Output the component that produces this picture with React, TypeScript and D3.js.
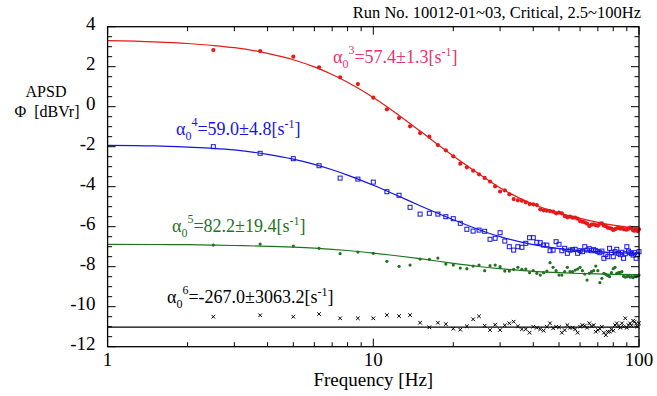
import React, { useRef, useEffect } from 'react';
import * as d3 from 'd3';

// measured frequencies: 2.5 Hz to 100 Hz in 1.25 Hz steps
const freqs = d3.range(79).map(i => 2.5 + 1.25 * i);

const redPts = [
  2.83, 2.78, 2.50, 1.97, 1.47, 1.13, 0.45, -0.13, -0.57, -0.98,
  -1.32, -1.50, -1.92, -2.18, -2.48, -2.85, -3.03, -3.20, -3.38, -3.56,
  -3.74, -3.98, -4.24, -4.18, -4.38, -4.62, -4.68, -4.70, -4.78, -4.87,
  -4.88, -4.92, -5.13, -5.18, -5.20, -5.22, -5.25, -5.33, -5.30, -5.33,
  -5.47, -5.53, -5.50, -5.55, -5.55, -5.60, -5.72, -5.75, -5.78, -5.85,
  -5.97, -5.90, -5.88, -5.92, -5.95, -5.85, -5.83, -5.95, -5.97, -6.05,
  -6.07, -6.10, -6.17, -6.12, -6.08, -6.05, -6.10, -6.08, -6.12, -6.13,
  -6.15, -6.10, -6.05, -6.07, -6.18, -6.20, -6.12, -6.22, -6.13
];

const bluePts = [
  -2.00, -2.33, -2.60, -2.95, -3.57, -3.62, -3.77, -4.25, -4.43, -5.03,
  -5.37, -5.33, -5.37, -5.50, -5.60, -5.83, -6.13, -6.22, -6.17, -6.23,
  -6.63, -6.58, -6.30, -6.72, -7.00, -7.17, -7.00, -7.03, -6.83, -6.55,
  -6.55, -6.78, -6.80, -6.92, -6.92, -7.20, -7.17, -6.75, -6.88, -7.20,
  -7.08, -7.33, -7.17, -7.15, -7.13, -7.33, -7.20, -7.25, -7.00, -7.17,
  -7.10, -7.20, -7.15, -7.20, -7.25, -7.30, -7.22, -7.58, -7.40, -7.50,
  -7.08, -7.30, -7.50, -7.25, -7.13, -7.33, -7.40, -7.28, -7.58, -7.35,
  -7.00, -7.22, -7.30, -7.35, -7.42, -7.30, -7.58, -7.40, -7.25
];

const greenPts = [
  -6.92, -6.87, -6.97, -7.08, -7.35, -7.27, -7.33, -7.73, -7.98, -7.92,
  -7.62, -7.63, -7.57, -7.87, -7.92, -8.07, -8.10, -7.97, -7.92, -8.20,
  -7.95, -7.92, -8.00, -8.22, -8.22, -8.13, -8.03, -8.13, -8.12, -8.30,
  -8.20, -8.33, -8.42, -8.30, -8.22, -7.80, -8.03, -8.20, -8.42, -8.42,
  -8.25, -8.03, -8.25, -8.25, -8.17, -8.12, -8.03, -8.20, -8.37, -8.67,
  -8.33, -8.25, -8.20, -7.97, -8.20, -8.80, -8.58, -8.33, -8.38, -8.45,
  -8.50, -8.30, -8.10, -8.03, -8.33, -8.30, -8.28, -8.25, -8.48, -8.52,
  -8.50, -8.47, -8.52, -8.50, -8.55, -8.48, -8.50, -8.45, -8.42
];

const blackPts = [
  -10.50, -10.43, -10.50, -10.37, -10.58, -10.58, -10.58, -10.42, -10.47, -10.42,
  -10.80, -11.03, -10.80, -10.87, -11.10, -11.15, -10.98, -10.63, -10.48, -10.95,
  -11.17, -10.90, -11.17, -10.93, -10.83, -10.75, -10.98, -11.13, -11.13, -11.30,
  -11.00, -11.05, -11.13, -11.20, -11.00, -10.83, -11.08, -11.00, -11.03, -11.30,
  -11.17, -10.92, -11.05, -11.05, -11.13, -11.30, -11.00, -10.92, -10.95, -11.05,
  -10.83, -10.97, -10.92, -11.25, -11.17, -11.10, -11.00, -11.30, -11.42, -11.25,
  -11.25, -11.13, -11.20, -10.92, -10.83, -10.97, -11.05, -10.83, -11.00, -10.58,
  -11.05, -10.92, -10.83, -10.95, -10.70, -10.75, -10.85, -11.00, -10.83
];

// fitted curves, read at these frequencies
const fitFreqs = [1, 1.5, 2, 2.5, 3, 4, 5, 6, 7, 8, 10, 12, 15, 20, 25, 30, 40, 50, 60, 70, 80, 100];
const redFit = [3.30, 3.24, 3.16, 3.06, 2.95, 2.67, 2.35, 1.99, 1.61, 1.22, 0.46, -0.26, -1.22, -2.46, -3.36, -4.05, -4.88, -5.32, -5.58, -5.78, -5.92, -6.10];
const blueFit = [-1.93, -1.96, -2.02, -2.08, -2.16, -2.38, -2.62, -2.88, -3.15, -3.42, -3.93, -4.38, -4.95, -5.65, -6.15, -6.50, -6.90, -7.10, -7.20, -7.25, -7.29, -7.33];
const greenFit = [-6.88, -6.89, -6.90, -6.92, -6.94, -6.98, -7.02, -7.07, -7.13, -7.19, -7.32, -7.44, -7.60, -7.83, -7.99, -8.10, -8.23, -8.30, -8.34, -8.36, -8.38, -8.40];
const blackFit = [-11.02, -11.02, -11.02, -11.02, -11.02, -11.02, -11.02, -11.02, -11.02, -11.02, -11.02, -11.02, -11.02, -11.02, -11.02, -11.02, -11.02, -11.02, -11.02, -11.02, -11.02, -11.02];

const yTicks = [4, 2, 0, -2, -4, -6, -8, -10, -12];
const xLabels = [1, 10, 100];

const RED = '#e61919';
const BLUE = '#1414e6';
const GREEN = '#1e731e';
const FONT = "'Times New Roman', 'Liberation Serif', Tinos, 'Noto Serif', 'DejaVu Serif', serif";

const App = () => {
  const svgRef = useRef(null);
  const width = 657;
  const height = 396;
  const margin = { top: 26.7, right: 18, bottom: 49.3, left: 107.6 };

  useEffect(() => {
    const svg = d3.select(svgRef.current);
    svg.selectAll('*').remove();
    svg.style('font-family', FONT);

    const x = d3.scaleLog().domain([1, 100]).range([margin.left, width - margin.right]);
    const y = d3.scaleLinear().domain([-12, 4]).range([height - margin.bottom, margin.top]);
    const x0 = x.range()[0], x1 = x.range()[1];
    const y0 = y.range()[0], y1 = y.range()[1];

    // fit lines
    const fitLine = d3.line()
      .x((d, i) => x(fitFreqs[i]))
      .y(d => y(d))
      .curve(d3.curveMonotoneX);
    [[redFit, RED], [blueFit, BLUE], [greenFit, GREEN], [blackFit, '#000']].forEach(([vals, col]) => {
      svg.append('path')
        .attr('d', fitLine(vals))
        .attr('fill', 'none')
        .attr('stroke', col)
        .attr('stroke-width', 1.2);
    });

    // red points
    svg.append('g').selectAll('circle').data(redPts).join('circle')
      .attr('cx', (d, i) => x(freqs[i]))
      .attr('cy', d => y(d))
      .attr('r', 2.1)
      .attr('fill', RED);

    // blue open squares
    svg.append('g').selectAll('rect').data(bluePts).join('rect')
      .attr('x', (d, i) => x(freqs[i]) - 2)
      .attr('y', d => y(d) - 2)
      .attr('width', 4)
      .attr('height', 4)
      .attr('fill', 'none')
      .attr('stroke', BLUE)
      .attr('stroke-width', 1);

    // green dots
    svg.append('g').selectAll('circle').data(greenPts).join('circle')
      .attr('cx', (d, i) => x(freqs[i]))
      .attr('cy', d => y(d))
      .attr('r', 1.6)
      .attr('fill', GREEN);

    // black crosses
    svg.append('g').selectAll('path').data(blackPts).join('path')
      .attr('d', (d, i) => {
        const cx = x(freqs[i]), cy = y(d), s = 1.8;
        return `M${cx - s},${cy - s}L${cx + s},${cy + s}M${cx - s},${cy + s}L${cx + s},${cy - s}`;
      })
      .attr('stroke', '#000')
      .attr('stroke-width', 1);

    // frame
    svg.append('rect')
      .attr('x', x0).attr('y', y1)
      .attr('width', x1 - x0).attr('height', y0 - y1)
      .attr('fill', 'none')
      .attr('stroke', '#000')
      .attr('stroke-width', 1.3);

    const ticks = svg.append('g').attr('stroke', '#000').attr('stroke-width', 1);

    // x ticks (log) on bottom and top, pointing inward
    x.ticks().forEach(f => {
      const major = xLabels.includes(f);
      const len = major ? 8 : 4.5;
      ticks.append('line').attr('x1', x(f)).attr('x2', x(f)).attr('y1', y0).attr('y2', y0 - len);
      ticks.append('line').attr('x1', x(f)).attr('x2', x(f)).attr('y1', y1).attr('y2', y1 + len);
    });

    // y ticks every 0.5, major every 2
    d3.range(-12, 4.01, 0.5).forEach(v => {
      const major = Math.abs(v % 2) < 1e-6;
      const len = major ? 8 : 4.5;
      ticks.append('line').attr('x1', x0).attr('x2', x0 + len).attr('y1', y(v)).attr('y2', y(v));
      ticks.append('line').attr('x1', x1).attr('x2', x1 - len).attr('y1', y(v)).attr('y2', y(v));
    });

    // tick labels
    svg.append('g').selectAll('text').data(yTicks).join('text')
      .attr('x', x0 - 12)
      .attr('y', d => y(d) + 3)
      .attr('text-anchor', 'end')
      .attr('font-size', 19)
      .text(d => d);

    svg.append('g').selectAll('text').data(xLabels).join('text')
      .attr('x', d => x(d))
      .attr('y', y0 + 19)
      .attr('text-anchor', 'middle')
      .attr('font-size', 19)
      .text(d => d);

    svg.append('text')
      .attr('x', (x0 + x1) / 2)
      .attr('y', 386)
      .attr('text-anchor', 'middle')
      .attr('font-size', 19)
      .text('Frequency [Hz]');

    svg.append('text')
      .attr('x', 46).attr('y', 97)
      .attr('text-anchor', 'middle')
      .attr('font-size', 16)
      .text('APSD');
    svg.append('text')
      .attr('x', 47).attr('y', 117)
      .attr('text-anchor', 'middle')
      .attr('font-size', 16)
      .style('white-space', 'pre')
      .text('\u03A6  [dBVr]');

    svg.append('text')
      .attr('x', 641).attr('y', 18)
      .attr('text-anchor', 'end')
      .attr('font-size', 16.5)
      .text('Run No. 10012-01~03, Critical, 2.5~100Hz');

    // fit parameter annotations
    const notes = [
      { x: 333, y: 63, n: '3', v: '=57.4\u00B11.3[s', c: '#e8336b' },
      { x: 176, y: 135, n: '4', v: '=59.0\u00B14.8[s', c: BLUE },
      { x: 172, y: 232, n: '5', v: '=82.2\u00B119.4[s', c: GREEN },
      { x: 167, y: 303, n: '6', v: '=-267.0\u00B13063.2[s', c: '#000' }
    ];
    notes.forEach(nt => {
      const t = svg.append('text')
        .attr('x', nt.x).attr('y', nt.y)
        .attr('fill', nt.c)
        .attr('font-size', 18);
      t.append('tspan').text('\u03B1');
      t.append('tspan').attr('font-size', 12).attr('dy', 5).text('0');
      t.append('tspan').attr('font-size', 12).attr('dy', -14).text(nt.n);
      t.append('tspan').attr('dy', 9).text(nt.v);
      t.append('tspan').attr('font-size', 12).attr('dy', -7).text('-1');
      t.append('tspan').attr('dy', 7).text(']');
    });
  }, []);

  return (
    <svg
      ref={svgRef}
      width={width}
      height={height}
      style={{ position: 'absolute', left: 0, top: 0, background: '#fff' }}
    />
  );
};

export default App;
